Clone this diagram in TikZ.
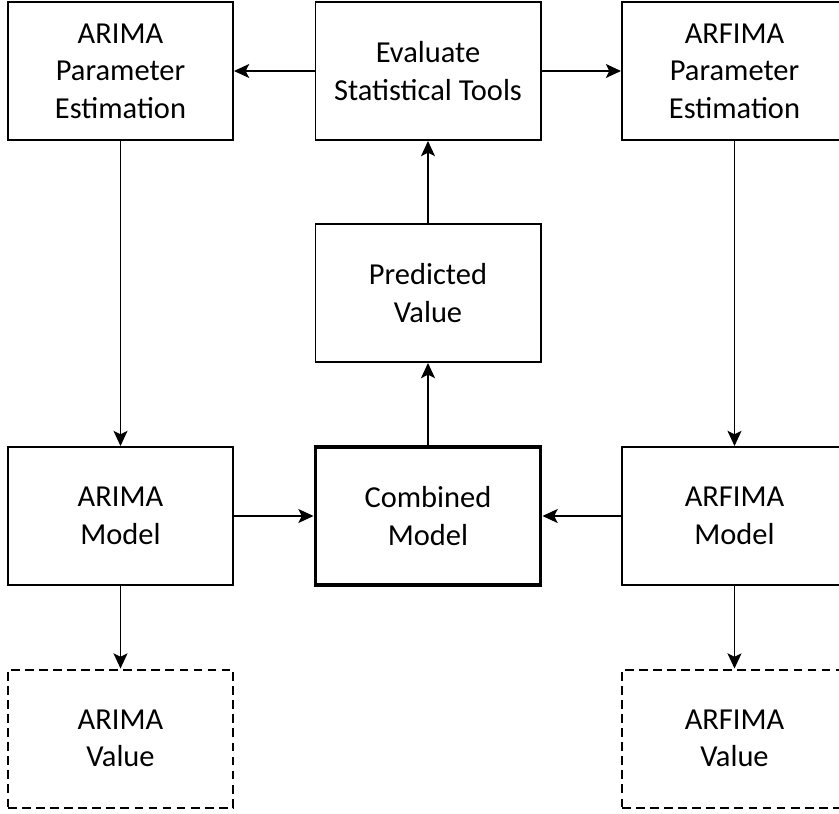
\documentclass[tikz,border=0pt]{standalone}
\usepackage{fontspec}
\setmainfont{Carlito}
\usetikzlibrary{arrows.meta}

\tikzset{
  blockbox/.style={draw, line width=1.7pt, minimum width=225*0.03cm, minimum height=138*0.03cm,
                   align=center, font=\fontsize{26}{32}\selectfont, inner sep=0pt},
  mainbox/.style={blockbox, line width=3.4pt},
  valuebox/.style={blockbox, dash pattern=on 7.5pt off 4.5pt},
  flow/.style={-{Stealth[length=13pt,width=12pt,inset=3pt]}, line width=1pt}
}

\begin{document}
\begin{tikzpicture}[x=0.03cm,y=-0.03cm]
    \useasboundingbox (0,0) rectangle (839,814);

    % top row
    \node[blockbox] (arimaest)  at (120.5,71) {ARIMA\\Parameter\\Estimation};
    \node[blockbox] (evaltools) at (428,71)   {Evaluate\\Statistical Tools};
    \node[blockbox] (arfimaest) at (734.5,71) {ARFIMA\\Parameter\\Estimation};

    % middle
    \node[blockbox] (predicted) at (428,293)  {Predicted\\Value};

    % models
    \node[blockbox] (arimamod)  at (120.5,516) {ARIMA\\Model};
    \node[mainbox]  (combined)  at (428,516)   {Combined\\Model};
    \node[blockbox] (arfimamod) at (734.5,516) {ARFIMA\\Model};

    % values
    \node[valuebox] (arimaval)  at (120.5,738.5) {ARIMA\\Value};
    \node[valuebox] (arfimaval) at (734.5,738.5) {ARFIMA\\Value};

    \draw[flow] (evaltools) -- (arimaest);
    \draw[flow] (evaltools) -- (arfimaest);
    \draw[flow] (arimaest) -- (arimamod);
    \draw[flow] (arfimaest) -- (arfimamod);
    \draw[flow] (arimamod) -- (combined);
    \draw[flow] (arfimamod) -- (combined);
    \draw[flow] (combined) -- (predicted);
    \draw[flow] (predicted) -- (evaltools);
    \draw[flow] (arimamod) -- (arimaval);
    \draw[flow] (arfimamod) -- (arfimaval);

\end{tikzpicture}
\end{document}
